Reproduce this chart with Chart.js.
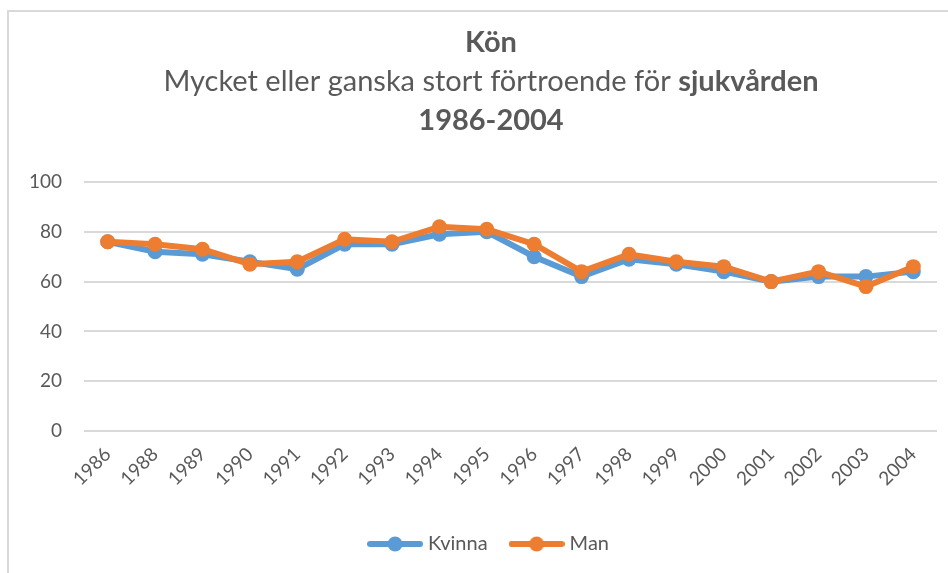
<!DOCTYPE html>
<html>
<head>
<meta charset="utf-8">
<script src="https://cdn.jsdelivr.net/npm/chart.js@4/dist/chart.umd.min.js"></script>
<style>
  html, body { margin: 0; padding: 0; background: #fff; }
  #wrap { width: 948px; height: 573px; }
</style>
</head>
<body>
<div id="wrap"><canvas id="chart" width="948" height="573"></canvas></div>
<script>
// data
const years = ['1986', '1988', '1989', '1990', '1991', '1992', '1993', '1994', '1995',
  '1996', '1997', '1998', '1999', '2000', '2001', '2002', '2003', '2004'];
const kvinna = [76, 72, 71, 68, 65, 75, 75, 79, 80, 70, 62, 69, 67, 64, 60, 62, 62, 64];
const man = [76, 75, 73, 67, 68, 77, 76, 82, 81, 75, 64, 71, 68, 66, 60, 64, 58, 66];

const BLUE = '#5b9bd5';
const ORANGE = '#ed7d31';
const GRAY = '#595959';
const FONT = 'Lato, "Open Sans", sans-serif';
const TITLE_SIZE = 29;

// small line+dot picture for the legend
function legendMark(color) {
  const c = document.createElement('canvas');
  c.width = 56;
  c.height = 18;
  const g = c.getContext('2d');
  g.strokeStyle = color;
  g.lineWidth = 6;
  g.lineCap = 'round';
  g.beginPath();
  g.moveTo(3, 9);
  g.lineTo(53, 9);
  g.stroke();
  g.fillStyle = color;
  g.beginPath();
  g.arc(28, 9, 7.5, 0, Math.PI * 2);
  g.fill();
  return c;
}

// title with a bold word in the middle line
const titlePlugin = {
  id: 'mixedTitle',
  afterDraw(chart) {
    const ctx = chart.ctx;
    const cx = 491;
    const reg = TITLE_SIZE + 'px ' + FONT;
    const bold = 'bold ' + TITLE_SIZE + 'px ' + FONT;
    ctx.save();
    ctx.fillStyle = GRAY;
    ctx.textBaseline = 'middle';
    ctx.textAlign = 'center';
    ctx.font = bold;
    ctx.fillText('Kön', cx, 43);
    ctx.fillText('1986-2004', cx, 121);

    const part1 = 'Mycket eller ganska stort förtroende för ';
    const part2 = 'sjukvården';
    ctx.font = reg;
    const w1 = ctx.measureText(part1).width;
    ctx.font = bold;
    const w2 = ctx.measureText(part2).width;
    const x0 = cx - (w1 + w2) / 2;
    ctx.textAlign = 'left';
    ctx.font = reg;
    ctx.fillText(part1, x0, 82);
    ctx.font = bold;
    ctx.fillText(part2, x0 + w1, 82);
    ctx.restore();
  }
};

// light frame round the chart, and nudge the legend to the centre used in the original
const framePlugin = {
  id: 'frame',
  afterLayout(chart) {
    if (chart.legend) chart.legend.left = 44;
  },
  beforeDraw(chart) {
    const ctx = chart.ctx;
    ctx.save();
    ctx.strokeStyle = '#d9d9d9';
    ctx.lineWidth = 2;
    ctx.beginPath();
    ctx.moveTo(8, 600);
    ctx.lineTo(8, 11);
    ctx.lineTo(960, 11);
    ctx.stroke();
    ctx.restore();
  }
};

const ctx = document.getElementById('chart').getContext('2d');
new Chart(ctx, {
  type: 'line',
  data: {
    labels: years,
    datasets: [
      {
        label: 'Kvinna',
        data: kvinna,
        borderColor: BLUE,
        backgroundColor: BLUE,
        borderWidth: 6,
        pointRadius: 7.5,
        pointHoverRadius: 7.5,
        pointBorderWidth: 0,
        tension: 0,
        order: 1
      },
      {
        label: 'Man',
        data: man,
        borderColor: ORANGE,
        backgroundColor: ORANGE,
        borderWidth: 6,
        pointRadius: 7.5,
        pointHoverRadius: 7.5,
        pointBorderWidth: 0,
        tension: 0,
        order: 0
      }
    ]
  },
  options: {
    responsive: false,
    animation: false,
    layout: { padding: { top: 182, right: 11, bottom: 9, left: 0 } },
    plugins: {
      title: { display: false },
      tooltip: { enabled: false },
      legend: {
        position: 'bottom',
        labels: {
          usePointStyle: true,
          pointStyleWidth: 46,
          padding: 26,
          color: GRAY,
          font: { family: FONT, size: 20 },
          generateLabels(chart) {
            return chart.data.datasets.map((ds, i) => ({
              text: ds.label,
              fontColor: GRAY,
              pointStyle: legendMark(ds.borderColor),
              lineWidth: 0,
              strokeStyle: 'transparent',
              fillStyle: ds.borderColor,
              hidden: false,
              datasetIndex: i
            }));
          }
        }
      }
    },
    scales: {
      x: {
        offset: true,
        grid: { display: false },
        border: { display: false },
        ticks: {
          color: GRAY,
          font: { family: FONT, size: 19 },
          minRotation: 45,
          maxRotation: 45,
          autoSkip: false,
          padding: 4
        },
        afterFit(scale) { scale.height = 77; }
      },
      y: {
        min: 0,
        max: 100,
        grid: { color: '#d9d9d9', lineWidth: 2, drawTicks: false },
        border: { display: false },
        ticks: {
          stepSize: 20,
          color: GRAY,
          font: { family: FONT, size: 19 },
          padding: 22
        },
        afterFit(scale) { scale.width = 84; }
      }
    }
  },
  plugins: [framePlugin, titlePlugin]
});
</script>
</body>
</html>
